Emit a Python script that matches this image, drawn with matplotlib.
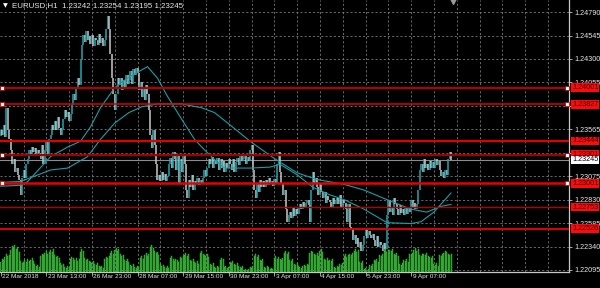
import matplotlib
matplotlib.use('Agg')
import matplotlib.pyplot as plt
import matplotlib.transforms as mtransforms
from matplotlib import font_manager

# ---------------- data ----------------
close = [
    1.2356, 1.2351, 1.2361, 1.2348, 1.2379, 1.2356,
    1.2346, 1.2335, 1.2320, 1.2325, 1.2312, 1.2316,
    1.2309, 1.2304, 1.2288, 1.2306,
    1.2314, 1.2306, 1.2320,
    1.2325, 1.2335, 1.2330, 1.2338,
    1.2333, 1.2337, 1.2330, 1.2335, 1.2332,
    1.2325, 1.2340, 1.2320, 1.2335,
    1.2344, 1.2330, 1.2346,
    1.2351, 1.2361, 1.2356,
    1.2365, 1.2356, 1.2369, 1.2358,
    1.2351, 1.2356,
    1.2367, 1.2377, 1.2369,
    1.2375, 1.2365, 1.2372,
    1.2382, 1.2393, 1.2387,
    1.2400, 1.2410, 1.2403,
    1.2429, 1.2445,
    1.2455, 1.2448, 1.2459, 1.2450, 1.2454,
    1.2446, 1.2455, 1.2444, 1.2452,
    1.2450, 1.2445, 1.2456, 1.2447, 1.2452, 1.2444, 1.2450,
    1.2461, 1.2475,
    1.2461, 1.2435, 1.2410,
    1.2393, 1.2377,
    1.2393, 1.2410,
    1.2403, 1.2410, 1.2398, 1.2408, 1.2400, 1.2413, 1.2404,
    1.2408, 1.2417, 1.2404, 1.2419, 1.2413, 1.2421, 1.2415,
    1.2398, 1.2406, 1.2390,
    1.2400, 1.2387, 1.2403, 1.2393,
    1.2377, 1.2351, 1.2337,
    1.2356, 1.2340,
    1.2320, 1.2304,
    1.2309, 1.2302, 1.2312, 1.2304, 1.2310, 1.2303, 1.2308,
    1.2320, 1.2327, 1.2316, 1.2333, 1.2325,
    1.2314, 1.2330, 1.2299, 1.2325, 1.2312,
    1.2330, 1.2320,
    1.2293, 1.2285,
    1.2304, 1.2296, 1.2309, 1.2293, 1.2302,
    1.2299, 1.2306, 1.2298, 1.2304, 1.2300,
    1.2306, 1.2314, 1.2308, 1.2316,
    1.2325, 1.2320, 1.2328, 1.2316, 1.2323,
    1.2320, 1.2327, 1.2314, 1.2325, 1.2316, 1.2323, 1.2312, 1.2321, 1.2316, 1.2325,
    1.2320, 1.2314, 1.2325, 1.2312, 1.2322,
    1.2327, 1.2319, 1.2330, 1.2323,
    1.2325, 1.2330, 1.2320, 1.2328, 1.2323,
    1.2335, 1.2340,
    1.2314, 1.2293, 1.2285,
    1.2299, 1.2291, 1.2304, 1.2296,
    1.2302, 1.2296, 1.2304, 1.2298, 1.2306, 1.2299, 1.2303, 1.2297, 1.2305, 1.2300,
    1.2320, 1.2333,
    1.2312, 1.2299, 1.2288, 1.2293,
    1.2273, 1.2260, 1.2267,
    1.2270, 1.2264, 1.2274, 1.2266, 1.2273, 1.2268, 1.2275,
    1.2278, 1.2273, 1.2281, 1.2275, 1.2279,
    1.2283, 1.2277, 1.2260,
    1.2293, 1.2312, 1.2299, 1.2306,
    1.2296, 1.2288, 1.2299, 1.2291,
    1.2285, 1.2291, 1.2279, 1.2287, 1.2283,
    1.2281, 1.2275, 1.2285, 1.2278, 1.2283,
    1.2285, 1.2278, 1.2288, 1.2275, 1.2283, 1.2279,
    1.2273, 1.2260,
    1.2278, 1.2254,
    1.2252, 1.2241, 1.2246, 1.2237,
    1.2243, 1.2233, 1.2239, 1.2229, 1.2236,
    1.2245, 1.2252, 1.2243, 1.2250, 1.2246,
    1.2243, 1.2247,
    1.2241, 1.2235, 1.2245, 1.2233, 1.2239,
    1.2236, 1.2229, 1.2238, 1.2231,
    1.2267, 1.2283,
    1.2270, 1.2275, 1.2267,
    1.2285, 1.2278,
    1.2273, 1.2267, 1.2277, 1.2269,
    1.2273, 1.2267, 1.2275, 1.2268, 1.2274, 1.2270,
    1.2283, 1.2275, 1.2279,
    1.2273, 1.2278,
    1.2293, 1.2314,
    1.2320, 1.2312, 1.2325, 1.2316,
    1.2320, 1.2314, 1.2323, 1.2316,
    1.2322, 1.2316, 1.2325, 1.2319, 1.2323,
    1.2314, 1.2308, 1.2312, 1.2306, 1.2314, 1.2309,
    1.2325, 1.2333, 1.23245,
]
first_open = 1.2350

volume = [
    10, 13, 12, 15, 18, 16, 17, 22, 26, 24, 27, 23, 25, 20, 11, 9, 10,
    12, 10, 13, 11, 12, 14, 11, 8, 6, 7, 5, 16, 18, 17, 19, 21, 18, 20,
    22, 20, 23, 17, 15, 16, 14, 9, 7, 8, 5, 4, 6, 5, 13, 15, 14,
    12, 14, 11, 13, 20, 23, 21, 14, 12, 13, 11, 10, 9, 11, 8, 7, 9, 6,
    5, 6, 4, 13, 15, 14, 16, 19, 21, 18, 22, 24, 21, 23, 18, 16, 17,
    12, 11, 13, 10, 7, 6, 8, 5, 4, 6, 5, 14, 16, 13, 17, 19, 16, 18,
    25, 27, 24, 21, 19, 20, 17, 8, 6, 7, 5, 4, 6, 4, 14, 16, 13,
    11, 13, 12, 10, 15, 14, 16, 17, 19, 16, 18, 12, 11, 13, 10, 9, 11, 8,
    19, 21, 18, 17, 16, 18, 15, 8, 7, 9, 5, 4, 6, 5, 12, 14, 13,
    5, 6, 4, 5, 10, 9, 11, 8, 7, 9, 6, 5, 4, 6, 2, 3, 2, 3,
    5, 4, 6, 16, 18, 15, 17, 12, 11, 13, 5, 4, 6, 5, 3, 4, 3,
    14, 16, 13, 15, 13, 12, 14, 19, 21, 18, 20, 12, 11, 13, 8, 7, 9, 6,
    5, 4, 6, 7, 6, 8, 7, 19, 21, 20, 18, 17, 19, 16, 21, 23, 20,
    13, 12, 14, 11, 12, 11, 13, 5, 4, 6, 5, 8, 7, 9, 16, 18, 15, 17,
    18, 17, 19, 21, 23, 20, 22, 10, 9, 11, 3, 4, 2, 3, 7, 6, 8,
    12, 11, 13, 10, 17, 16, 18, 21, 23, 20, 22, 22, 21, 23, 18, 17, 19, 16,
    8, 7, 9, 12, 11, 13, 10, 18, 17, 19, 22, 24, 21, 23, 17, 16, 18,
    18, 17, 19, 16, 15, 14, 16, 8, 7, 9, 6, 17, 16, 18, 19, 21, 20, 18,
    17, 18,
]

ma_fast_idx = [0, 14, 19, 35, 47, 56, 63, 70, 80, 89, 103, 110, 117, 127, 136, 143,
               150, 157, 175, 189, 196, 208, 219, 231, 241, 255, 271, 288, 295, 304, 316]
ma_fast = [1.2297, 1.2298, 1.2302, 1.2328, 1.2338, 1.2344, 1.2359, 1.2379, 1.2400, 1.2410,
           1.2422, 1.2410, 1.2391, 1.2367, 1.2346, 1.2335, 1.2325, 1.2316, 1.2316, 1.2317,
           1.2320, 1.2309, 1.2296, 1.2288, 1.2283, 1.2273, 1.2259, 1.2258, 1.2260, 1.2270,
           1.2290]
ma_slow_idx = [0, 14, 21, 35, 47, 61, 70, 80, 90, 99, 110, 127, 141, 150, 161, 175, 191,
               208, 222, 241, 255, 271, 288, 299, 309, 316]
ma_slow = [1.2301, 1.2302, 1.2306, 1.2314, 1.2316, 1.2328, 1.2346, 1.2363, 1.2374, 1.2380,
           1.2383, 1.2383, 1.2379, 1.2374, 1.2361, 1.2344, 1.2327, 1.2311, 1.2304, 1.2299,
           1.2293, 1.2283, 1.2273, 1.2270, 1.2276, 1.2278]

levels = [1.24001, 1.23827, 1.23444, 1.23301, 1.23001, 1.22753, 1.22526]
level_has_marker = [True, True, False, True, True, False, False]

price_ticks = [1.24790, 1.24545, 1.24300, 1.24055, 1.23810, 1.23565, 1.23320,
               1.23075, 1.22830, 1.22585, 1.22340, 1.22095]
# labels of 1.23810 and 1.23320 sit under the level boxes in the reference
price_tick_labels = ['1.24790', '1.24545', '1.24300', '1.24055', '', '1.23565', '',
                     '1.23075', '1.22830', '1.22585', '1.22340', '1.22095']
time_labels = ['22 Mar 2018', '23 Mar 13:00', '26 Mar 23:00', '28 Mar 07:00',
               '29 Mar 15:00', '30 Mar 23:00', '3 Apr 07:00', '4 Apr 15:00',
               '5 Apr 23:00', '9 Apr 07:00']
time_label_bars = [0, 32, 64, 96, 128, 160, 192, 224, 256, 288]
current_price = 1.23245
title = 'EURUSD,H1  1.23242 1.23254 1.23195 1.23245'

# ---------------- styles ----------------
names = {f.name for f in font_manager.fontManager.ttflist}
FONT = 'Liberation Sans Narrow' if 'Liberation Sans Narrow' in names else 'Liberation Sans'
FS = 6.0 if FONT == 'Liberation Sans Narrow' else 5.2
plt.rcParams['font.family'] = [FONT, 'DejaVu Sans']

BULL = '#1fa9b1'
BEAR = '#c8c8c8'
MA_COL = '#1b9ea6'
GRID = '#7a7a7a'
TXT = '#e6e6e6'
level_colors = ['#b00000', '#e00000', '#e00000', '#a00000', '#e80000', '#b00000', '#e00000']
level_widths = [1.6, 1.1, 1.6, 1.6, 1.8, 1.0, 1.4]

W, H = 600, 288
fig = plt.figure(figsize=(W / 100, H / 100), dpi=100, facecolor='black')
ax = fig.add_axes([0, 16 / H, 569 / W, 272 / H])
ax.set_facecolor('black')

px_per_bar = 1.425
ax.set_xlim(-0.5, -0.5 + 569 / px_per_bar)
ax.set_ylim(1.22074, 1.24916)

# grid
for b in range(16, 400, 16):
    ax.axvline(b, color=GRID, lw=0.6, ls=(0, (2.5, 2.5)), zorder=0)
for p in price_ticks:
    ax.axhline(p, color=GRID, lw=0.6, ls=(0, (2.5, 2.5)), zorder=0)

# candles (open = previous close)
opens = [first_open] + close[:-1]
idx = list(range(len(close)))
lo = [min(o, c) for o, c in zip(opens, close)]
hi = [max(o, c) for o, c in zip(opens, close)]
cols = [BULL if c >= o else BEAR for o, c in zip(opens, close)]
ax.vlines(idx, lo, hi, colors=cols, lw=1.1, zorder=3)

# moving averages
ax.plot(ma_fast_idx, ma_fast, color=MA_COL, lw=0.8, zorder=4)
ax.plot(ma_slow_idx, ma_slow, color=MA_COL, lw=0.8, zorder=4)

# horizontal levels
blend = mtransforms.blended_transform_factory(ax.transAxes, ax.transData)
box_pad = 'square,pad=0.12'
for lv, c, w, mk in zip(levels, level_colors, level_widths, level_has_marker):
    ax.axhline(lv, color=c, lw=w, zorder=5)
    if mk:
        ax.plot([0.003, 0.996], [lv, lv], ls='none', marker='s', ms=2.6, mfc='white',
                mec=c, mew=0.6, transform=blend, zorder=6, clip_on=False)
    ax.text(1.0 + 3 / 569, lv, f'{lv:.5f}', transform=blend, ha='left', va='center',
            fontsize=FS, color='#300000', zorder=10, clip_on=False,
            bbox=dict(boxstyle=box_pad, fc='#ff0a0a', ec='none'))

# current price
ax.axhline(current_price, color='#8c8c8c', lw=0.8, zorder=2)
ax.text(1.0 + 3 / 569, current_price, f'{current_price:.5f}', transform=blend, ha='left',
        va='center', fontsize=FS, color='black', zorder=10, clip_on=False,
        bbox=dict(boxstyle=box_pad, fc='white', ec='none'))

# volume
axv = ax.twinx()
axv.set_ylim(0, 272)
axv.bar(idx, volume, width=0.7, color='#1f8f1f', edgecolor='#45c445', lw=0.3, zorder=2)
axv.set_yticks([])
for s in axv.spines.values():
    s.set_visible(False)

# axes styling
for s in ['top', 'left']:
    ax.spines[s].set_visible(False)
for s in ['bottom', 'right']:
    ax.spines[s].set_color('#c8c8c8')
    ax.spines[s].set_linewidth(0.9)
ax.yaxis.tick_right()
ax.set_yticks(price_ticks)
ax.set_yticklabels(price_tick_labels)
ax.tick_params(axis='y', colors='#bdbdbd', labelcolor=TXT, labelsize=FS, length=2.5,
               width=0.6, pad=1.2)
ax.set_xticks(time_label_bars)
ax.set_xticklabels([])
ax.tick_params(axis='x', colors='#bdbdbd', length=3, width=0.6)
xblend = mtransforms.blended_transform_factory(ax.transData, ax.transAxes)
xoff = mtransforms.ScaledTranslation(1.5 / 100, 0, fig.dpi_scale_trans)
for b, lab in zip(time_label_bars, time_labels):
    ax.text(b, -0.006, lab, transform=xblend + xoff, ha='left', va='top',
            fontsize=FS * 0.9, color=TXT, clip_on=False)

# title and shift marker
fig.text(3 / W, 1 - 5.5 / H, '\u25bc', fontsize=4.5, color='white', ha='left', va='center',
         family='DejaVu Sans')
fig.text(12 / W, 1 - 5.5 / H, title, fontsize=FS + 0.5, color=TXT, ha='left', va='center')
ax.plot([453 / 569], [0.995], transform=ax.transAxes, marker='v', ms=4, color='#9a9a9a',
        clip_on=False, zorder=11)

fig.savefig('out.png', dpi=100, facecolor='black')
